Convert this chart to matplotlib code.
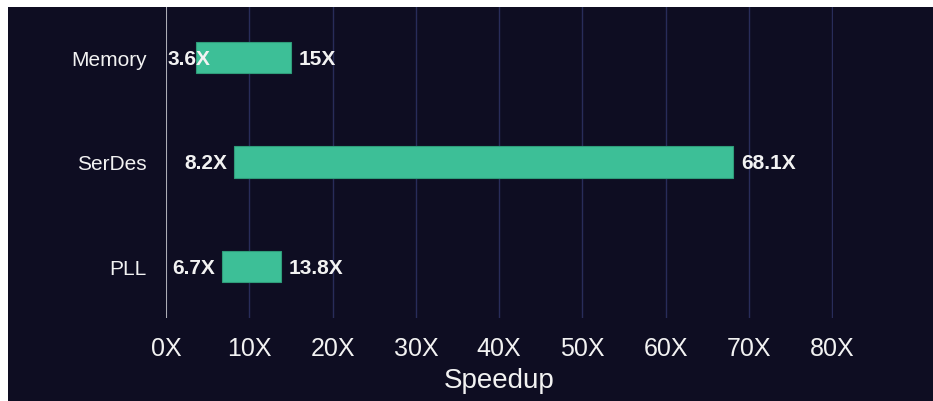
import matplotlib
matplotlib.use('Agg')
import matplotlib.pyplot as plt
from matplotlib.patches import Rectangle

# data
categories = ['PLL', 'SerDes', 'Memory']
speedup_min = [6.7, 8.2, 3.6]
speedup_max = [13.8, 68.1, 15.0]
min_labels = ['6.7X', '8.2X', '3.6X']
max_labels = ['13.8X', '68.1X', '15X']
xticks = [0, 10, 20, 30, 40, 50, 60, 70, 80]

bg = '#0e0d22'
bar_color = '#3dbf97'
grid_color = '#282c5a'
text_color = '#f2f2f2'

plt.rcParams['font.family'] = ['Liberation Sans', 'DejaVu Sans']

W, H = 933, 402
fig = plt.figure(figsize=(W / 100, H / 100), dpi=100, facecolor='white')
# dark panel, with a thin white margin on the left and top
fig.patches.append(Rectangle((8 / W, 0), 1 - 8 / W, 1 - 8 / H,
                             transform=fig.transFigure, facecolor=bg,
                             edgecolor='none', zorder=-5))

ax = fig.add_axes([166 / W, 1 - 319 / H, (833 - 166) / W, (319 - 8) / H])
ax.set_facecolor(bg)

ypos = range(len(categories))
widths = [hi - lo for lo, hi in zip(speedup_min, speedup_max)]
ax.barh(ypos, widths, left=speedup_min, height=0.3, color=bar_color,
        edgecolor='#2f9c7a', linewidth=0.8, zorder=3)

for y, lo, hi, lo_t, hi_t in zip(ypos, speedup_min, speedup_max,
                                  min_labels, max_labels):
    if lo < 5:
        ax.annotate(lo_t, (0, y), xytext=(2, -1), textcoords='offset pixels',
                    ha='left', va='center', color=text_color,
                    fontsize=15, fontweight='bold', zorder=4)
    else:
        ax.annotate(lo_t, (lo, y), xytext=(-7, -1), textcoords='offset pixels',
                    ha='right', va='center', color=text_color,
                    fontsize=15, fontweight='bold', zorder=4)
    ax.annotate(hi_t, (hi, y), xytext=(8, -1), textcoords='offset pixels',
                ha='left', va='center', color=text_color,
                fontsize=15, fontweight='bold', zorder=4)

ax.set_xlim(0, 80.1)
ax.set_ylim(-0.49, 2.48)
ax.set_xticks(xticks)
ax.set_xticklabels([f'{t}X' for t in xticks])
ax.set_yticks(list(ypos))
ax.set_yticklabels(categories)

ax.grid(axis='x', color=grid_color, linewidth=1, zorder=1)
ax.axvline(0, color='#c8c8c8', linewidth=1.2, zorder=2)
for s in ax.spines.values():
    s.set_visible(False)

ax.tick_params(axis='x', length=0, pad=13, labelsize=18, colors=text_color)
ax.tick_params(axis='y', length=0, pad=14, labelsize=15, colors=text_color)
ax.set_xlabel('Speedup', fontsize=20, color=text_color, labelpad=5)

fig.savefig('out.png', dpi=100, facecolor=fig.get_facecolor())
